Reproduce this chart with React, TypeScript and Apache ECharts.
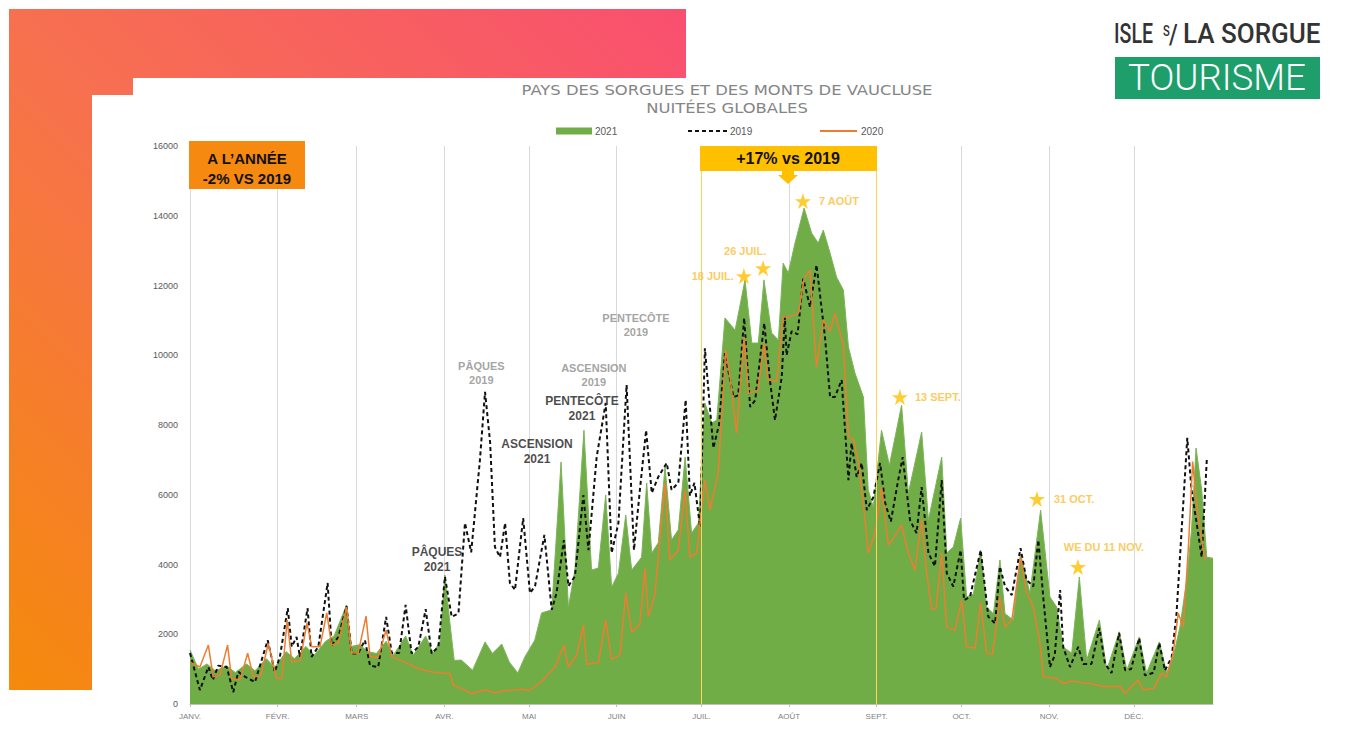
import React, { useEffect, useRef } from 'react';
import * as echarts from 'echarts';

// ---------- data ----------
const MONTH_LABELS = ['JANV.', 'FÉVR.', 'MARS', 'AVR.', 'MAI', 'JUIN', 'JUIL.', 'AOÛT', 'SEPT.', 'OCT.', 'NOV.', 'DÉC.'];
const Y_MAX = 16000;
const Y_STEP = 2000;
const LAST_DAY = 362;
const SERIES_NAMES = ['2021', '2019', '2020'];

// [day of year (0 = 1 Jan), nuitées]
const NUITEES_2021: [number, number][] = [
  [0, 1550], [3, 1000], [6, 1150], [9, 950], [13, 1100], [16, 900], [20, 1150], [23, 950], [27, 1300], [30, 1050],
  [34, 1500], [37, 1300], [41, 1650], [44, 1400], [48, 1800], [51, 1950], [55.4, 2840], [57, 1650], [60, 1700],
  [63, 1500], [66, 1450], [69.4, 1800], [72, 1400], [76.3, 1950], [79, 1400], [83.4, 1950], [86, 1450], [88.5, 1800],
  [90.2, 3700], [92, 2300], [93.5, 1250], [96, 1260], [100, 970], [104.4, 1780], [107, 1450], [110.3, 1720],
  [113, 1200], [116, 890], [118.5, 1350], [122, 1830], [124.4, 2610], [128, 2700], [131.3, 6940], [133.9, 2780],
  [136.2, 3840], [139.4, 7850], [142.1, 3840], [144.5, 3900], [147.1, 5990], [149.2, 3350], [151.6, 3750],
  [154.2, 5420], [156.3, 3840], [159.8, 4210], [161.6, 6340], [163.4, 4330], [165.7, 4620], [168.1, 6800],
  [170.4, 4700], [172.8, 5000], [175.2, 7080], [177.5, 4900], [179.9, 5190], [182.2, 8630], [184.6, 8060],
  [186.4, 8140], [189.3, 11070], [192.9, 10720], [196.4, 12160], [198.8, 10350], [201.1, 10350], [203.1, 12160],
  [205.8, 10640], [208.2, 10440], [209.9, 12640], [211.7, 12360], [214.1, 13220], [217.3, 14220], [220, 13500],
  [222.3, 13220], [224.1, 13590], [226.5, 12930], [228.8, 12240], [231.2, 11870], [233, 10240], [235.3, 9490],
  [238.3, 8800], [240, 6140], [241.8, 5650], [244.7, 7850], [247.5, 6850], [251.8, 8570], [254.2, 6050],
  [258.9, 7800], [261.3, 5280], [266, 7080], [267.8, 4330], [270.1, 4500], [272.7, 5330], [274.8, 3070],
  [277.2, 3150], [279.8, 4410], [281.9, 2780], [284.3, 2590], [286.6, 4130], [288.4, 2590], [291.3, 2410],
  [293.9, 4300], [297.2, 3180], [301, 5560], [304.3, 3070], [306.7, 2780], [309, 1630], [312, 1460], [314.7, 3640],
  [317.3, 1260], [321.8, 2410], [324.4, 970], [328.8, 2070], [331.5, 970], [335.9, 1920], [338.5, 890], [343, 1780],
  [345.6, 890], [347.9, 1350], [350.3, 2210], [352.7, 3560], [354.4, 4990], [356, 7340], [358, 6140], [359.8, 4210],
  [362, 4180],
];

const NUITEES_2019: [number, number][] = [
  [0, 1460], [3.5, 400], [6.5, 1060], [8.1, 690], [10, 1100], [13, 1060], [15.3, 340], [17.1, 920], [19.5, 780],
  [23, 630], [27.5, 1830], [30, 920], [31.8, 1350], [34.6, 2750], [36, 1640], [37.7, 1920], [38.9, 1350],
  [41.6, 2750], [43, 1350], [45.4, 1640], [48.7, 3470], [50.1, 1680], [52.5, 1920], [55.4, 2810], [57.2, 1450],
  [59.5, 1450], [61.9, 1830], [63.7, 1100], [66.6, 1060], [69.4, 2500], [71.4, 1460], [74, 1460], [76.3, 2840],
  [78.4, 1450], [80.8, 1640], [83.4, 2720], [85.5, 1450], [87.9, 1640], [90.2, 3650], [92.6, 2500], [95, 2600],
  [97.3, 5190], [99.5, 4350], [102.6, 7000], [104.4, 8950], [106.2, 7500], [107.9, 4500], [109.7, 4210],
  [111.5, 5190], [113.2, 3470], [115, 3270], [117.9, 5330], [120.3, 3180], [122.1, 3380], [125.4, 4850], [128, 2700],
  [129.7, 3180], [132.3, 4700], [133.9, 3380], [136.2, 3660], [139.2, 5990], [141, 4410], [143.9, 7080],
  [147.1, 8630], [149.2, 4330], [151.6, 5190], [154.5, 9150], [157.1, 4410], [159.2, 6140], [161.4, 7850],
  [163.4, 6050], [165.7, 6510], [168.7, 6910], [170.4, 6140], [172.8, 6340], [175.4, 8720], [176.9, 5970],
  [178.5, 6340], [180.5, 5070], [182.2, 10200], [185.2, 7340], [187.2, 8010], [189.3, 10060], [192.3, 8800],
  [194, 8850], [196.1, 11070], [198.2, 8520], [200, 8710], [203.2, 10920], [205.2, 9290], [207, 8140], [209.4, 9380],
  [210.5, 11100], [211.1, 10000], [212.9, 10690], [215, 10600], [217, 12200], [219.4, 11380], [221.7, 12590],
  [224.7, 10520], [226.5, 8800], [228.2, 8800], [230.6, 9290], [233, 6420], [234.1, 7480], [235.9, 6510],
  [237.7, 6910], [239.5, 5560], [241.8, 5930], [244.2, 6910], [246, 5760], [248, 5230], [250.6, 6420], [252.2, 7080],
  [254.8, 5270], [257.1, 4900], [258.9, 6220], [261.3, 4330], [263.6, 3950], [266, 6420], [267.8, 3750],
  [270.1, 3370], [272.7, 4410], [273.9, 2980], [276, 3070], [279.8, 4410], [282.5, 2500], [284.9, 2310],
  [286.6, 3940], [288.4, 3370], [290.8, 3120], [293.9, 4470], [296, 3560], [298.4, 3370], [300.2, 4700],
  [302, 3000], [304.3, 1060], [306, 1400], [307.9, 3270], [309, 1630], [311.4, 1060], [314.3, 1640], [316.1, 1150],
  [319, 1150], [321.8, 2180], [323.8, 1150], [326.1, 890], [328.8, 2040], [330.9, 970], [333, 1000], [335.9, 1890],
  [337.9, 820], [341, 900], [343, 1750], [345, 960], [347.4, 1350], [349.1, 2600], [350.9, 4990], [352.9, 7630],
  [354.4, 6140], [356.2, 5190], [358, 4210], [359.8, 7000],
];

const NUITEES_2020: [number, number][] = [
  [0, 1200], [3.5, 1060], [6.5, 1690], [8.2, 780], [10.6, 830], [13.3, 1690], [14.7, 730], [17.7, 690],
  [20.4, 1460], [22.4, 780], [25, 800], [27.7, 1730], [30.7, 730], [32.5, 730], [34.4, 2410], [36, 1200], [39, 1250],
  [41.4, 2320], [43.1, 1640], [46, 1640], [48.4, 2610], [50.1, 1690], [52.5, 1750], [55.4, 2780], [57.2, 1460],
  [59.5, 1460], [62.3, 2520], [63.7, 1350], [66.6, 1350], [69.4, 2120], [71.4, 1350], [76.1, 1200], [80.8, 1010],
  [85.5, 920], [92, 870], [93.2, 540], [96.1, 440], [99.7, 300], [104.4, 400], [108, 320], [111.5, 390], [115, 400],
  [118, 420], [120, 380], [124.4, 640], [126.8, 860], [129.2, 1060], [132.3, 1690], [133.9, 1060], [136.8, 1390],
  [139.2, 2260], [140.4, 1140], [144.5, 1180], [147.1, 2410], [149.2, 1270], [152.2, 1410], [154.2, 3180],
  [156.3, 2060], [159.2, 2290], [161, 3900], [162.2, 2510], [164.5, 3120], [168.1, 6340], [169.8, 4130],
  [172.8, 4410], [175.2, 6140], [176.9, 4210], [179.3, 4330], [182.2, 6420], [184, 5560], [186.9, 6620],
  [189.6, 10150], [191.1, 9380], [193.4, 7770], [196.1, 10520], [197.6, 8900], [201, 9000], [203.1, 10350],
  [204.6, 9290], [207.6, 9260], [209.9, 11100], [212, 11100], [215.3, 11200], [217.3, 12200], [219.4, 12440],
  [221.7, 9660], [224.1, 11010], [226.5, 10690], [228.2, 11200], [231.2, 10300], [233, 7660], [234.8, 7580],
  [236.6, 6910], [239, 5190], [240, 4330], [242.4, 4900], [244.7, 6220], [247.1, 4560], [248.5, 4700],
  [251.8, 5130], [254.2, 4330], [256.5, 3840], [258.9, 5280], [260.7, 3750], [262.5, 2700], [264, 2750],
  [266, 4330], [267.8, 2210], [270.7, 2110], [273.1, 2980], [274.8, 1640], [277.8, 1600], [279.8, 2890],
  [281.9, 1450], [284, 1430], [286.6, 3070], [288.4, 2210], [290.8, 2400], [293.9, 4210], [296, 3220],
  [298.4, 2780], [300.8, 1740], [302, 780], [306.7, 730], [309, 590], [312, 660], [315, 620], [318.5, 590],
  [323.2, 500], [329.1, 500], [330.9, 310], [335.5, 690], [337.3, 400], [341, 450], [343.8, 880], [345.6, 780],
  [347.9, 1450], [349.7, 2600], [351.5, 2210], [353.3, 4500], [354.8, 6950], [356.2, 5750], [358, 4700],
  [359.2, 4130],
];

// summer period bounds (1 July, 1 Sept)
const PERIOD_BOUNDS = [181, 243];

// starred record days
const STAR_LABELS = ['18 JUIL.', '26 JUIL.', '7 AOÛT', '13 SEPT.', '31 OCT.', 'WE DU 11 NOV.'];
const STAR_DAYS = [196, 202.8, 216.9, 251.2, 299.7, 314.2];
const STAR_VALUES = [12270, 12500, 14420, 8800, 5880, 3930];

// holiday annotations
const HOLIDAY_LABELS = ['PÂQUES\n2021', 'PÂQUES\n2019', 'ASCENSION\n2021', 'PENTECÔTE\n2021', 'ASCENSION\n2019', 'PENTECÔTE\n2019'];
const HOLIDAY_DAYS = [87.4, 103.1, 122.8, 138.7, 142.9, 157.8];
const HOLIDAY_VALUES = [4143, 9491, 7226, 8459, 9434, 10870];
const HOLIDAY_YEARS = [2021, 2019, 2021, 2021, 2019, 2019];

const TITLE_LINE_1 = 'PAYS DES SORGUES ET DES MONTS DE VAUCLUSE';
const TITLE_LINE_2 = 'NUITÉES GLOBALES';
const YEAR_BOX = ['A L’ANNÉE', '-2% VS 2019'];
const SUMMER_BOX = '+17% vs 2019';

// ---------- helpers ----------
const BASE = new Date(2021, 0, 1).getTime();
const DAY_MS = 86400000;
const ts = (d: number) => BASE + d * DAY_MS;
const toSeries = (arr: [number, number][]) => arr.map(([d, v]) => [ts(d), v]);

const STAR_PATH = 'path://M50,0 L61.8,35.1 L98.9,35.1 L68.9,56.9 L80.3,92.1 L50,70.4 L19.7,92.1 L31.1,56.9 L1.1,35.1 L38.2,35.1 Z';
const SANS = 'Liberation Sans, Arial, sans-serif';

const COLOR_2021 = '#70AD47';
const COLOR_2019 = '#111111';
const COLOR_2020 = '#ED7D31';

const starLabelStyle = (i: number) => {
  const styles: any[] = [
    { position: 'left', distance: 2 },
    { position: 'top', distance: 4, offset: [-18, 0] },
    { position: 'right', distance: 8 },
    { position: 'right', distance: 7 },
    { position: 'right', distance: 9 },
    { position: 'top', distance: 6, offset: [26, 0] },
  ];
  return styles[i];
};

const centeredText = (text: string, x: number, y: number, extra: any, z = 21, scaleX = 1) => ({
  type: 'text',
  x,
  y,
  z,
  scaleX,
  style: {
    text,
    textAlign: 'center',
    align: 'center',
    textVerticalAlign: 'middle',
    verticalAlign: 'middle',
    ...extra,
  },
});

const leftText = (text: string, x: number, y: number, extra: any, z = 21, scaleX = 1) => ({
  type: 'text',
  x,
  y,
  z,
  scaleX,
  style: {
    text,
    textAlign: 'left',
    align: 'left',
    textVerticalAlign: 'middle',
    verticalAlign: 'middle',
    ...extra,
  },
});

export default function App() {
  const ref = useRef<HTMLDivElement>(null);

  useEffect(() => {
    if (!ref.current) return;
    const chart = echarts.init(ref.current, undefined, { renderer: 'svg' });

    const bgGradient = new echarts.graphic.LinearGradient(0, 1, 1, 0, [
      { offset: 0, color: '#F58A0B' },
      { offset: 0.5, color: '#F77050' },
      { offset: 1, color: '#F94F70' },
    ]);

    const legendText = { fontSize: 10, fontFamily: SANS, fill: '#595959' };
    const logoText = { fontSize: 28, fontWeight: 500, fontFamily: 'Roboto', fill: '#333333', textVerticalAlign: 'bottom', verticalAlign: 'bottom' };

    const option: any = {
      animation: false,
      backgroundColor: '#ffffff',
      grid: { left: 190, right: 147, top: 146, bottom: 38, containLabel: false },
      xAxis: {
        type: 'time',
        min: ts(0),
        max: ts(LAST_DAY),
        minInterval: 27 * DAY_MS,
        maxInterval: 31 * DAY_MS,
        axisLine: { show: true, lineStyle: { color: '#bfbfbf', width: 1 } },
        axisTick: { show: true, length: 3, lineStyle: { color: '#bfbfbf' } },
        splitLine: { show: true, showMaxLine: false, lineStyle: { color: '#d9d9d9', width: 1 } },
        axisLabel: {
          fontSize: 8,
          color: '#7f7f7f',
          fontFamily: SANS,
          margin: 8,
          formatter: (v: number) => MONTH_LABELS[new Date(v).getMonth()],
        },
      },
      yAxis: {
        type: 'value',
        min: 0,
        max: Y_MAX,
        interval: Y_STEP,
        axisLine: { show: false },
        axisTick: { show: false },
        splitLine: { show: false },
        axisLabel: { fontSize: 9, color: '#595959', fontFamily: SANS, margin: 12, formatter: (v: number) => String(v) },
      },
      series: [
        {
          name: SERIES_NAMES[0],
          type: 'line',
          data: toSeries(NUITEES_2021),
          symbol: 'none',
          showSymbol: false,
          lineStyle: { color: '#7DB35A', width: 1 },
          itemStyle: { color: COLOR_2021 },
          areaStyle: { color: COLOR_2021, opacity: 1 },
          z: 2,
          markLine: {
            silent: true,
            symbol: ['none', 'none'],
            label: { show: false },
            lineStyle: { color: '#FFD35C', width: 1, type: 'solid' },
            data: PERIOD_BOUNDS.map((d) => ({ xAxis: ts(d) })),
          },
        },
        {
          name: SERIES_NAMES[1],
          type: 'line',
          data: toSeries(NUITEES_2019),
          symbol: 'none',
          showSymbol: false,
          lineStyle: { color: COLOR_2019, width: 2, type: [4, 3] },
          itemStyle: { color: COLOR_2019 },
          z: 3,
        },
        {
          name: SERIES_NAMES[2],
          type: 'line',
          data: toSeries(NUITEES_2020),
          symbol: 'none',
          showSymbol: false,
          lineStyle: { color: COLOR_2020, width: 1.5 },
          itemStyle: { color: COLOR_2020 },
          z: 4,
        },
        {
          name: 'records',
          type: 'scatter',
          silent: true,
          symbol: STAR_PATH,
          symbolSize: 16,
          itemStyle: { color: '#FFC000' },
          z: 10,
          label: {
            show: true,
            formatter: '{b}',
            color: '#F9BE36',
            fontWeight: 'bold',
            fontSize: 11,
            fontFamily: SANS,
          },
          data: STAR_LABELS.map((l, i) => ({
            name: l,
            value: [ts(STAR_DAYS[i]), STAR_VALUES[i]],
            label: starLabelStyle(i),
          })),
        },
        {
          name: 'fetes',
          type: 'scatter',
          silent: true,
          symbolSize: 0,
          z: 11,
          label: {
            show: true,
            position: 'inside',
            formatter: '{b}',
            fontWeight: 'bold',
            fontFamily: SANS,
            align: 'center',
          },
          data: HOLIDAY_LABELS.map((l, i) => ({
            name: l,
            value: [ts(HOLIDAY_DAYS[i]), HOLIDAY_VALUES[i]],
            label:
              HOLIDAY_YEARS[i] === 2021
                ? { color: '#1a1a1a', fontSize: 12, lineHeight: 15 }
                : { color: '#8c8c8c', fontSize: 11, lineHeight: 14 },
          })),
        },
      ],
      graphic: [
        {
          type: 'polygon',
          z: 0,
          silent: true,
          shape: {
            points: [[9, 9], [686, 9], [686, 78], [133, 78], [133, 95], [92, 95], [92, 690], [9, 690]],
          },
          style: { fill: bgGradient },
        },
        centeredText(TITLE_LINE_1, 727, 90, { fontSize: 14, fontFamily: 'DejaVu Sans', fill: '#858585' }, 5, 1.17),
        centeredText(TITLE_LINE_2, 727, 108, { fontSize: 14, fontFamily: 'DejaVu Sans', fill: '#858585' }, 5, 1.17),
        // legend
        { type: 'rect', z: 5, shape: { x: 556, y: 127.5, width: 36, height: 7 }, style: { fill: COLOR_2021 } },
        leftText(SERIES_NAMES[0], 595, 131, legendText, 5),
        {
          type: 'line',
          z: 5,
          shape: { x1: 688, y1: 131, x2: 727, y2: 131 },
          style: { stroke: COLOR_2019, lineWidth: 2, lineDash: [4, 3] },
        },
        leftText(SERIES_NAMES[1], 730, 131, legendText, 5),
        {
          type: 'line',
          z: 5,
          shape: { x1: 820, y1: 131, x2: 857, y2: 131 },
          style: { stroke: COLOR_2020, lineWidth: 2 },
        },
        leftText(SERIES_NAMES[2], 861, 131, legendText, 5),
        // logo
        { type: 'text', x: 1114, y: 48, scaleX: 0.7, z: 5, style: { text: 'ISLE', ...logoText } },
        { type: 'text', x: 1163, y: 38, scaleX: 0.8, z: 5, style: { text: 'S', ...logoText, fontSize: 14 } },
        { type: 'text', x: 1169, y: 48, scaleX: 0.8, z: 5, style: { text: '/', ...logoText } },
        { type: 'text', x: 1183, y: 48, scaleX: 0.93, z: 5, style: { text: 'LA SORGUE', ...logoText } },
        { type: 'rect', z: 5, shape: { x: 1115, y: 57, width: 205, height: 42 }, style: { fill: '#1E9E6A' } },
        centeredText('TOURISME', 1217, 78, { fontSize: 36, fontWeight: 300, fontFamily: 'Roboto', fill: '#ffffff' }, 6, 1.02),
        // yearly box
        { type: 'rect', z: 20, shape: { x: 189, y: 141, width: 116, height: 48 }, style: { fill: '#F68A10' } },
        centeredText(YEAR_BOX.join('\n'), 247, 168, {
          fontSize: 15,
          lineHeight: 20,
          fontWeight: 'bold',
          fontFamily: SANS,
          fill: '#111111',
        }),
        // summer box
        { type: 'rect', z: 20, shape: { x: 700, y: 146, width: 177, height: 25 }, style: { fill: '#FFC000' } },
        {
          type: 'polygon',
          z: 20,
          shape: { points: [[782, 170], [794, 170], [794, 175], [798, 175], [788, 184], [778, 175], [782, 175]] },
          style: { fill: '#FFC000' },
        },
        centeredText(SUMMER_BOX, 788, 158, { fontSize: 16, fontWeight: 'bold', fontFamily: SANS, fill: '#111111' }),
      ],
    };

    chart.setOption(option);
    return () => chart.dispose();
  }, []);

  return (
    <div
      ref={ref}
      style={{ position: 'fixed', left: 0, top: 0, width: 1360, height: 742, background: '#ffffff' }}
    />
  );
}
